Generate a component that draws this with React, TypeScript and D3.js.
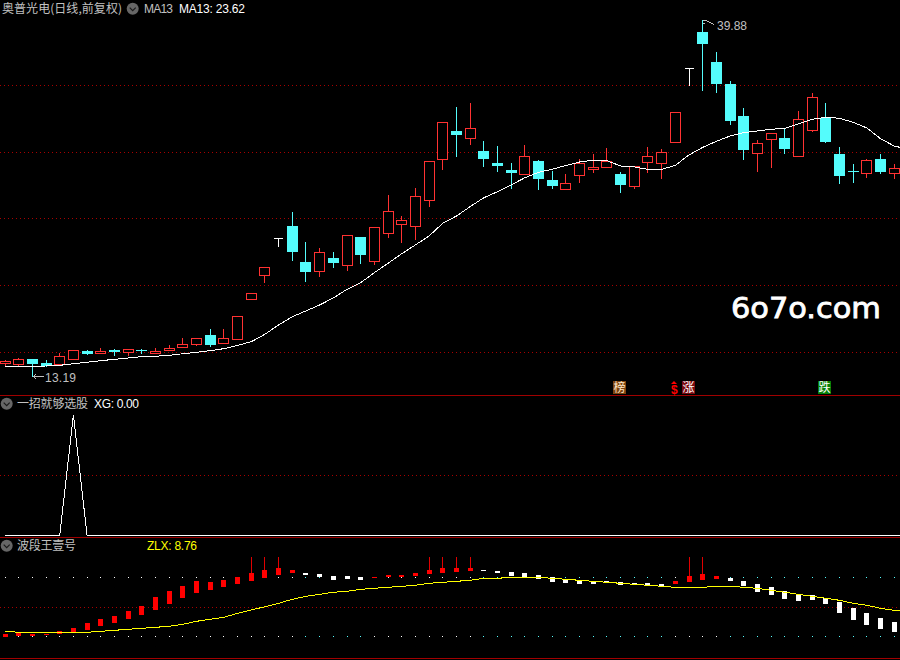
import { useEffect, useRef } from 'react';
import * as d3 from 'd3';

const WIDTH = 900;
const HEIGHT = 660;

// 日线 prices, one entry per bar
const opens = [14.19, 14.11, 14.47, 14.17, 14.07, 14.49, 15.04, 14.94, 15.14, 15.01, 15.14, 14.94, 15.12, 15.34, 15.61, 16.27, 15.69, 15.94, 18.94, 20.79, 23.52, 24.44, 21.74, 21.09, 22.04, 21.54, 23.62, 21.84, 23.94, 24.57, 24.42, 26.37, 29.44, 31.57, 31.02, 30.07, 29.17, 28.64, 28.36, 29.32, 27.89, 27.18, 28.29, 28.74, 28.89, 28.34, 27.46, 29.26, 29.19, 30.76, 36.27, 38.97, 36.74, 35.09, 32.69, 29.94, 30.99, 31.04, 29.71, 31.66, 32.56, 29.84, 28.55, 28.44, 29.47, 28.44];
const highs = [14.39, 14.54, 14.47, 14.39, 14.89, 15.12, 15.14, 15.27, 15.22, 15.19, 15.22, 15.27, 15.52, 16.04, 16.02, 16.72, 16.72, 17.67, 19.39, 21.34, 23.52, 25.47, 23.22, 22.77, 22.47, 23.74, 23.62, 24.34, 26.74, 25.17, 27.27, 29.29, 32.22, 33.34, 33.64, 30.82, 30.44, 29.14, 30.49, 29.39, 28.57, 28.34, 29.47, 29.84, 30.29, 28.49, 28.92, 30.37, 30.22, 32.97, 36.27, 39.88, 37.49, 35.32, 33.27, 30.89, 31.39, 31.77, 33.07, 34.42, 33.67, 30.37, 29.09, 29.47, 29.84, 29.09];
const lows = [13.94, 13.94, 13.19, 13.94, 14.07, 14.49, 14.86, 14.94, 14.79, 14.77, 14.92, 14.92, 15.12, 15.34, 15.52, 15.44, 15.69, 15.94, 18.94, 20.26, 22.96, 21.89, 20.34, 20.71, 21.39, 21.16, 21.69, 21.61, 23.64, 23.26, 23.49, 25.96, 28.74, 29.71, 30.61, 28.96, 28.59, 27.31, 28.36, 27.24, 27.31, 27.18, 27.76, 28.49, 28.89, 26.99, 27.31, 28.51, 28.06, 30.76, 34.99, 34.64, 34.49, 32.09, 29.47, 28.57, 28.87, 29.92, 29.71, 31.57, 30.74, 27.67, 27.74, 28.12, 28.42, 28.04];
const closes = [14.32, 14.44, 14.11, 13.94, 14.67, 15.12, 14.86, 15.07, 14.99, 15.19, 15.07, 15.07, 15.27, 15.57, 16.02, 15.52, 16.02, 17.67, 19.39, 21.34, 23.52, 22.51, 21.01, 22.47, 21.69, 23.74, 22.27, 24.34, 25.54, 24.87, 26.67, 29.29, 32.22, 31.29, 31.77, 29.49, 28.96, 28.44, 29.67, 27.99, 27.44, 27.64, 29.14, 28.87, 29.29, 27.52, 28.92, 29.67, 29.97, 32.97, 36.27, 38.11, 35.11, 32.34, 30.14, 30.64, 31.39, 30.22, 32.44, 34.09, 30.74, 28.19, 28.53, 29.37, 28.49, 28.77];
// last value belongs to the bar just past the right edge
const ma13 = [13.92, 13.92, 13.92, 13.94, 13.99, 14.11, 14.22, 14.34, 14.44, 14.54, 14.64, 14.67, 14.74, 14.86, 14.97, 15.09, 15.24, 15.49, 15.76, 16.32, 17.02, 17.64, 18.07, 18.52, 19.04, 19.69, 20.19, 20.94, 21.64, 22.36, 23.02, 23.69, 24.64, 25.19, 25.89, 26.56, 27.01, 27.52, 28.06, 28.47, 28.69, 28.98, 29.24, 29.37, 29.34, 28.94, 28.87, 28.69, 28.69, 28.99, 29.77, 30.34, 30.79, 31.19, 31.44, 31.57, 31.69, 31.77, 32.09, 32.44, 32.59, 32.52, 32.22, 31.79, 30.99, 30.44, 30.2];
const priceGrid = [15, 20, 25, 30, 35];

const xg = [0, 0, 0, 0, 0, 1, 0, 0, 0, 0, 0, 0, 0, 0, 0, 0, 0, 0, 0, 0, 0, 0, 0, 0, 0, 0, 0, 0, 0, 0, 0, 0, 0, 0, 0, 0, 0, 0, 0, 0, 0, 0, 0, 0, 0, 0, 0, 0, 0, 0, 0, 0, 0, 0, 0, 0, 0, 0, 0, 0, 0, 0, 0, 0, 0, 0, 0];

const zlxOpen = [20, 21, 21, 22, 23, 25, 27, 31, 34, 38, 42, 47, 53, 59, 64, 67, 70, 73, 76, 79, 82, 84, 84, 83, 81, 81, 80, 79, 80, 80, 81, 83, 84, 85, 86, 87, 86, 85, 84, 82, 80, 78, 77, 76, 76, 75, 74, 74, 73, 73, 75, 77, 78, 79, 76, 73, 70, 66, 63, 62, 59, 55, 49, 44, 39, 35];
const zlxClose = [23, 24, 23, 23, 26, 29, 34, 38, 41, 46, 51, 60, 66, 71, 76, 75, 77, 80, 84, 87, 89, 87, 82, 80, 77, 78, 77, 80, 82, 82, 84, 87, 89, 89, 89, 86, 84, 81, 80, 78, 75, 74, 73, 73, 74, 72, 72, 71, 70, 76, 81, 83, 81, 76, 71, 65, 62, 58, 56, 57, 53, 44, 37, 32, 28, 25];
const zlxLine = [25.7, 24.7, 24.7, 24.7, 24.7, 24.7, 24.7, 25.7, 26.7, 27.7, 28.7, 29.7, 30.7, 32.7, 35.7, 37.7, 39.7, 43.7, 47, 50.3, 53.7, 57.7, 60.7, 62.7, 64.7, 65.7, 67.7, 68.7, 69.7, 70.7, 71.7, 73.7, 74.7, 75.7, 76.7, 78.7, 78.7, 79.7, 79.7, 79.7, 78.7, 77.7, 76.7, 75.7, 74.7, 73.7, 72.7, 71.7, 70.7, 69.7, 69.7, 69.7, 70.7, 70.7, 69.7, 68.7, 66.7, 64.7, 62.7, 60.7, 58.7, 56.7, 53.7, 51.7, 48.7, 46.7, 45.3];
const zlxSpikes = [18, 19, 20, 31, 32, 33, 34, 50, 51];
const zlxLevels = [80, 21];

const signals = [
  { index: 45, label: '榜', bg: '#7c4310', color: '#ffe8c8' },
  { index: 50, label: '涨', bg: '#7a0a10', color: '#ffffff' },
  { index: 60, label: '跌', bg: '#068006', color: '#ffffff' },
];

const RED = '#ff3232';
const CYAN = '#54fcfc';
const GRID = '#a80000';
const BORDER = '#a00000';
const GRAY = '#c0c0c0';
const LATIN = '"Liberation Sans", Arial, sans-serif';
const CJK = '"Noto Sans CJK SC", sans-serif';

export default function App() {
  const svgRef = useRef<SVGSVGElement>(null);

  useEffect(() => {
    if (!svgRef.current) return;
    d3.select(svgRef.current).selectAll('*').remove();

    const svg = d3.select(svgRef.current);
    svg.append('rect').attr('width', WIDTH).attr('height', HEIGHT).attr('fill', '#000');

    // all three panels share the bar positions
    const x = d3.scaleLinear().domain([0, 65]).range([5, 894.2]);
    const col = (i: number) => Math.floor(x(i));
    const yPrice = d3.scaleLinear().domain([13.19, 39.88]).range([376, 20.13]);
    const row = (p: number) => Math.round(yPrice(p) - 0.1);
    const yXg = d3.scaleLinear().domain([0, 1]).range([535.5, 415]);
    const yZlx = d3.scaleLinear().domain([20, 80]).range([637, 577]);

    const dotted = (y: number) =>
      svg
        .append('line')
        .attr('x1', 0)
        .attr('x2', WIDTH)
        .attr('y1', Math.floor(y) + 0.5)
        .attr('y2', Math.floor(y) + 0.5)
        .attr('stroke', GRID)
        .attr('stroke-dasharray', '1 3')
        .attr('shape-rendering', 'crispEdges');

    priceGrid.forEach(p => dotted(row(p)));
    dotted(yXg(0.5));
    dotted(yZlx(50));

    // Panel borders
    [395, 537, 658].forEach(y => {
      svg
        .append('line')
        .attr('x1', 0)
        .attr('x2', WIDTH)
        .attr('y1', y + 0.5)
        .attr('y2', y + 0.5)
        .attr('stroke', BORDER)
        .attr('shape-rendering', 'crispEdges');
    });

    // Candles
    const candles = svg.append('g').attr('shape-rendering', 'crispEdges');
    opens.forEach((open, i) => {
      const close = closes[i];
      const cx = col(i);
      const up = close > open;
      const doji = close === open;
      const color = doji ? '#ffffff' : up ? RED : CYAN;
      const top = row(Math.max(open, close));
      const bottom = row(Math.min(open, close));

      candles
        .append('line')
        .attr('x1', cx + 0.5)
        .attr('x2', cx + 0.5)
        .attr('y1', row(highs[i]))
        .attr('y2', row(lows[i]) + 1)
        .attr('stroke', color);

      if (up && bottom - top >= 2) {
        candles
          .append('rect')
          .attr('x', cx - 4.5)
          .attr('y', top + 0.5)
          .attr('width', 10)
          .attr('height', bottom - top)
          .attr('fill', '#000')
          .attr('stroke', color);
      } else {
        const narrow = doji && color === '#ffffff';
        candles
          .append('rect')
          .attr('x', narrow ? cx - 4 : cx - 5)
          .attr('y', top)
          .attr('width', narrow ? 9 : 11)
          .attr('height', Math.max(bottom - top, 1))
          .attr('fill', color);
      }
    });

    const maLine = d3
      .line<number>()
      .x((d, i) => x(i))
      .y(d => yPrice(d));
    svg
      .append('path')
      .attr('d', maLine(ma13))
      .attr('fill', 'none')
      .attr('stroke', '#ffffff')
      .attr('shape-rendering', 'crispEdges');

    // Low and high markers
    const lowY = row(13.19);
    svg
      .append('path')
      .attr('d', `M${col(2) + 1} ${lowY + 0.5}H${col(2) + 12}M${col(2) + 1} ${lowY + 0.5}l3 -2M${col(2) + 1} ${lowY + 0.5}l3 2`)
      .attr('fill', 'none')
      .attr('stroke', GRAY)
      .attr('shape-rendering', 'crispEdges');
    const highY = row(39.88);
    svg
      .append('path')
      .attr('d', `M${col(51) + 1} ${highY + 0.5}h3M${col(51) + 1} ${highY + 3.5}h2M${col(51) + 4} ${highY + 0.5}l8 4`)
      .attr('fill', 'none')
      .attr('stroke', GRAY)
      .attr('shape-rendering', 'crispEdges');

    const label = (
      text: string,
      tx: number,
      ty: number,
      fill: string,
      family: string,
      size = 12,
      weight = 'normal',
      length?: number
    ) => {
      const node = svg
        .append('text')
        .attr('x', tx)
        .attr('y', ty)
        .attr('fill', fill)
        .attr('font-family', family)
        .attr('font-size', size)
        .attr('font-weight', weight)
        .text(text);
      if (length) node.attr('textLength', length).attr('lengthAdjust', 'spacing');
      return node;
    };

    label('13.19', 45, 382, GRAY, LATIN, 12, 'normal', 31);
    label('39.88', 717, 30, GRAY, LATIN, 12, 'normal', 30);
    label('6o7o.com', 731, 318, '#ffffff', '"DejaVu Sans", sans-serif', 28, 'normal', 150)
      .attr('lengthAdjust', 'spacingAndGlyphs')
      .attr('stroke', '#ffffff')
      .attr('stroke-width', 0.8);

    // Signal badges along the bottom of the price panel
    signals.forEach(s => {
      const left = col(s.index) - 7;
      svg.append('rect').attr('x', left).attr('y', 381).attr('width', 13).attr('height', 13).attr('fill', s.bg);
      label(s.label, left + 0.5, 392, s.color, CJK);
    });
    label('$', col(49) - 4, 394, '#ff0000', LATIN, 12, 'bold');
    svg
      .append('path')
      .attr('d', `M${col(49) - 1} 381l3 3h-6z`)
      .attr('fill', '#ff0000');

    // XG panel
    const xgLine = d3
      .line<number>()
      .x((d, i) => x(i))
      .y(d => yXg(d));
    svg
      .append('path')
      .attr('d', xgLine(xg))
      .attr('fill', 'none')
      .attr('stroke', '#ffffff')
      .attr('shape-rendering', 'crispEdges');

    // ZLX panel
    const zlx = svg.append('g').attr('shape-rendering', 'crispEdges');
    zlxOpen.forEach((open, i) => {
      const up = zlxClose[i] > open;
      zlxLevels.forEach(level => {
        zlx
          .append('rect')
          .attr('x', col(i))
          .attr('y', yZlx(level))
          .attr('width', 1)
          .attr('height', 1)
          .attr('fill', up ? '#ffffff' : CYAN);
      });
    });
    zlxSpikes.forEach(i => {
      zlx
        .append('line')
        .attr('x1', col(i) + 0.5)
        .attr('x2', col(i) + 0.5)
        .attr('y1', yZlx(100))
        .attr('y2', yZlx(zlxClose[i]))
        .attr('stroke', '#e00000');
    });
    zlxOpen.forEach((open, i) => {
      const close = zlxClose[i];
      zlx
        .append('rect')
        .attr('x', col(i) - 2)
        .attr('y', yZlx(Math.max(open, close)))
        .attr('width', 5)
        .attr('height', Math.abs(close - open))
        .attr('fill', close > open ? '#ff0000' : '#ffffff');
    });
    const zlxPath = d3
      .line<number>()
      .x((d, i) => x(i))
      .y(d => yZlx(d));
    svg
      .append('path')
      .attr('d', zlxPath(zlxLine))
      .attr('fill', 'none')
      .attr('stroke', '#ffff00')
      .attr('shape-rendering', 'crispEdges');

    // Panel headers
    const icon = (cx: number, cy: number) => {
      svg.append('circle').attr('cx', cx).attr('cy', cy).attr('r', 6).attr('fill', '#666666');
      svg
        .append('path')
        .attr('d', `M${cx - 3} ${cy - 1}l3 3l3 -3`)
        .attr('fill', 'none')
        .attr('stroke', '#1a1a1a')
        .attr('stroke-width', 1.2);
    };
    icon(132.7, 8.7);
    icon(6.7, 403.7);
    icon(6.7, 545.7);

    label('奥普光电(日线,前复权)', 2, 13, GRAY, CJK, 12, 'normal', 120);
    label('MA13', 144, 13, GRAY, LATIN, 12, 'normal', 29);
    label('MA13: 23.62', 179, 13, '#ffffff', LATIN, 12, 'normal', 66);
    label('一招就够选股', 17, 408, GRAY, CJK, 12, 'normal', 71);
    label('XG: 0.00', 94, 408, '#ffffff', LATIN, 12, 'normal', 45);
    label('波段王壹号', 17, 550, GRAY, CJK, 12, 'normal', 59);
    label('ZLX: 8.76', 147, 550, '#ffff00', LATIN, 12, 'normal', 50);
  }, []);

  return (
    <svg
      ref={svgRef}
      width={WIDTH}
      height={HEIGHT}
      style={{ position: 'absolute', left: 0, top: 0, display: 'block' }}
    ></svg>
  );
}
